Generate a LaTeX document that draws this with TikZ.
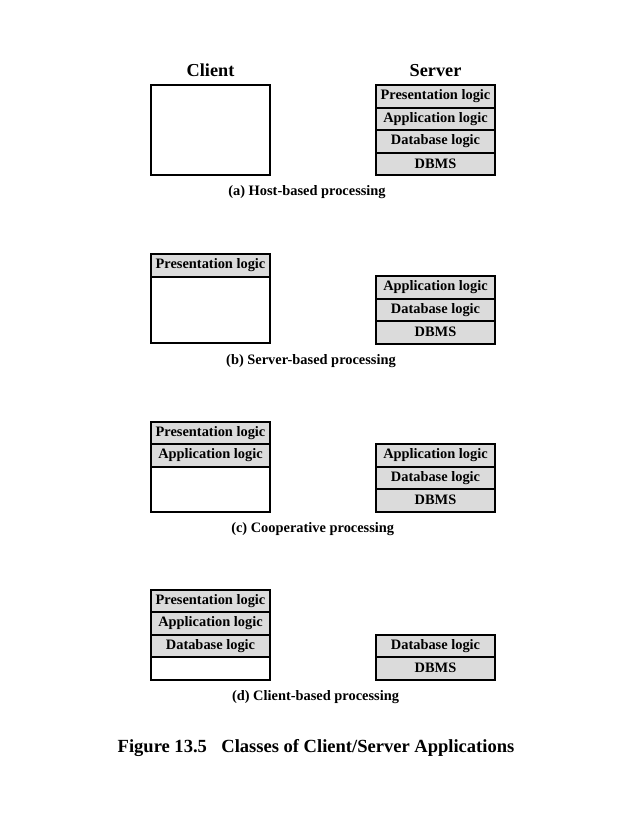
\documentclass[tikz,border=0pt]{standalone}
\usepackage{fontspec}
\setmainfont{Liberation Serif}
\usetikzlibrary{positioning}

\tikzset{
  layer/.style={draw, line width=1.5pt, fill=black!14, minimum width=89.25pt,
    minimum height=16.875pt, inner sep=0pt, outer sep=0pt,
    font=\fontsize{10.8}{12}\selectfont\bfseries},
  blank/.style={layer, fill=white},
  heading/.style={anchor=base, font=\fontsize{13.7}{16}\selectfont\bfseries},
  caption/.style={anchor=base, font=\fontsize{10.8}{12}\selectfont\bfseries}
}

\begin{document}
\begin{tikzpicture}[x=0.75pt, y=-0.75pt, node distance=0pt]
  \useasboundingbox (0,0) rectangle (637,824);

  % (a) host-based
  \node[heading] (clienthead) at (210.5,76) {Client};
  \node[heading] (serverhead) at (435.5,76) {Server};
  \node[blank, minimum height=67.5pt] (cliA) at (210.5,130) {};
  \node[layer] (srvApres) at (435.5,96.25) {Presentation logic};
  \node[layer, below=of srvApres] (srvAapp) {Application logic};
  \node[layer, below=of srvAapp] (srvAdb) {Database logic};
  \node[layer, below=of srvAdb] (srvAdbms) {DBMS};
  \node[caption] (capA) at (307,195.5) {(a) Host-based processing};

  % (b) server-based
  \node[layer] (cliBpres) at (210.5,265.25) {Presentation logic};
  \node[blank, minimum height=49.9pt, below=of cliBpres] (cliBfree) {};
  \node[layer] (srvBapp) at (435.5,287.25) {Application logic};
  \node[layer, below=of srvBapp] (srvBdb) {Database logic};
  \node[layer, below=of srvBdb] (srvBdbms) {DBMS};
  \node[caption] (capB) at (311,364) {(b) Server-based processing};

  % (c) cooperative
  \node[layer] (cliCpres) at (210.5,432.75) {Presentation logic};
  \node[layer, below=of cliCpres] (cliCapp) {Application logic};
  \node[blank, minimum height=34.1pt, below=of cliCapp] (cliCfree) {};
  \node[layer] (srvCapp) at (435.5,455.25) {Application logic};
  \node[layer, below=of srvCapp] (srvCdb) {Database logic};
  \node[layer, below=of srvCdb] (srvCdbms) {DBMS};
  \node[caption] (capC) at (312.7,532.5) {(c) Cooperative processing};

  % (d) client-based
  \node[layer] (cliDpres) at (210.5,600.75) {Presentation logic};
  \node[layer, below=of cliDpres] (cliDapp) {Application logic};
  \node[layer, below=of cliDapp] (cliDdb) {Database logic};
  \node[blank, below=of cliDdb] (cliDfree) {};
  \node[layer] (srvDdb) at (435.5,645.75) {Database logic};
  \node[layer, below=of srvDdb] (srvDdbms) {DBMS};
  \node[caption] (capD) at (315.5,700) {(d) Client-based processing};

  % figure title
  \node[heading, font=\fontsize{13.9}{16}\selectfont\bfseries] (figtitle) at (316,752)
    {Figure 13.5\hspace{0.78em}Classes of Client/Server Applications};
\end{tikzpicture}
\end{document}
